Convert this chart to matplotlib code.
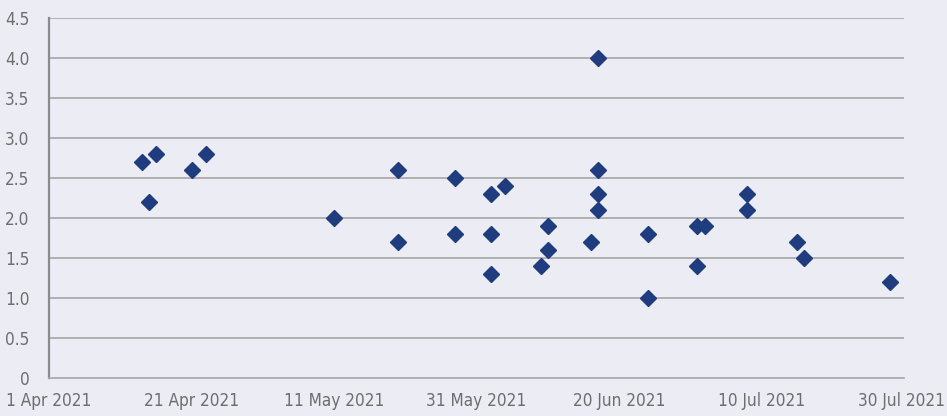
import matplotlib
matplotlib.use("Agg")
import matplotlib.pyplot as plt
from matplotlib import font_manager
import datetime as dt

# pick an upright, regular-weight narrow sans if one is installed
narrow = None
for f in font_manager.fontManager.ttflist:
    key = (f.name + " " + f.fname).lower()
    if ("narrow" in key or "condensed" in key) and f.style == "normal" \
            and f.weight in (400, "normal", "regular") and "semi" not in key \
            and "extra" not in key:
        narrow = f.fname
        break

# observations (date, value)
dates = ["2021-04-14", "2021-04-15", "2021-04-16", "2021-04-21", "2021-04-23",
         "2021-05-11", "2021-05-20", "2021-05-20", "2021-05-28", "2021-05-28",
         "2021-06-02", "2021-06-02", "2021-06-02", "2021-06-04", "2021-06-09",
         "2021-06-10", "2021-06-10", "2021-06-16", "2021-06-17", "2021-06-17",
         "2021-06-17", "2021-06-17", "2021-06-24", "2021-06-24", "2021-07-01",
         "2021-07-01", "2021-07-02", "2021-07-08", "2021-07-08", "2021-07-15",
         "2021-07-16", "2021-07-28"]
values = [2.7, 2.2, 2.8, 2.6, 2.8,
          2.0, 2.6, 1.7, 2.5, 1.8,
          2.3, 1.8, 1.3, 2.4, 1.4,
          1.9, 1.6, 1.7, 4.0, 2.6,
          2.3, 2.1, 1.8, 1.0, 1.9,
          1.4, 1.9, 2.3, 2.1, 1.7,
          1.5, 1.2]
x_ticks = ["2021-04-01", "2021-04-21", "2021-05-11", "2021-05-31",
           "2021-06-20", "2021-07-10", "2021-07-30"]
y_ticks = [0, 0.5, 1.0, 1.5, 2.0, 2.5, 3.0, 3.5, 4.0, 4.5]

bg = "#ebecf4"
text_col = "#6e6e6e"

xd = [dt.datetime.strptime(d, "%Y-%m-%d") for d in dates]
xt = [dt.datetime.strptime(d, "%Y-%m-%d") for d in x_ticks]

if narrow:
    fp = font_manager.FontProperties(fname=narrow, size=12.3)
else:
    fp = font_manager.FontProperties(family="Roboto", size=10.5)

fig = plt.figure(figsize=(9.47, 4.16), dpi=100, facecolor=bg)
ax = fig.add_axes([49 / 947, 1 - 378 / 416, 855 / 947, 360 / 416], facecolor=bg)

for y in y_ticks[1:]:
    ax.axhline(y, color="#a6a6a6", lw=1.2, zorder=1)

ax.plot(xd, values, linestyle="none", marker="D", markersize=8.5,
        color="#1f3c7e", zorder=3)

ax.set_xlim(xt[0], xt[-1])
ax.set_ylim(0, 4.5)
ax.set_xticks(xt)
xlabels = [d.strftime("%-d %b %Y") for d in xt]
# last label is drawn separately so it stays inside the canvas
ax.set_xticklabels(xlabels[:-1] + [""], fontproperties=fp)
fig.text(945 / 947, 1 - 392 / 416, xlabels[-1], ha="right", va="top",
         color=text_col, fontproperties=fp)
ax.set_yticks(y_ticks)
ax.set_yticklabels(["0"] + [f"{v:.1f}" for v in y_ticks[1:]], fontproperties=fp)

for s in ["top", "right"]:
    ax.spines[s].set_visible(False)
ax.spines["left"].set_color("#8c8c8c")
ax.spines["left"].set_linewidth(1.6)
ax.spines["bottom"].set_color("#a6a6a6")
ax.spines["bottom"].set_linewidth(1.2)
ax.tick_params(axis="both", length=0, labelcolor=text_col)
ax.tick_params(axis="x", pad=10)
ax.tick_params(axis="y", pad=14)

fig.savefig("out.png", dpi=100, facecolor=bg)
